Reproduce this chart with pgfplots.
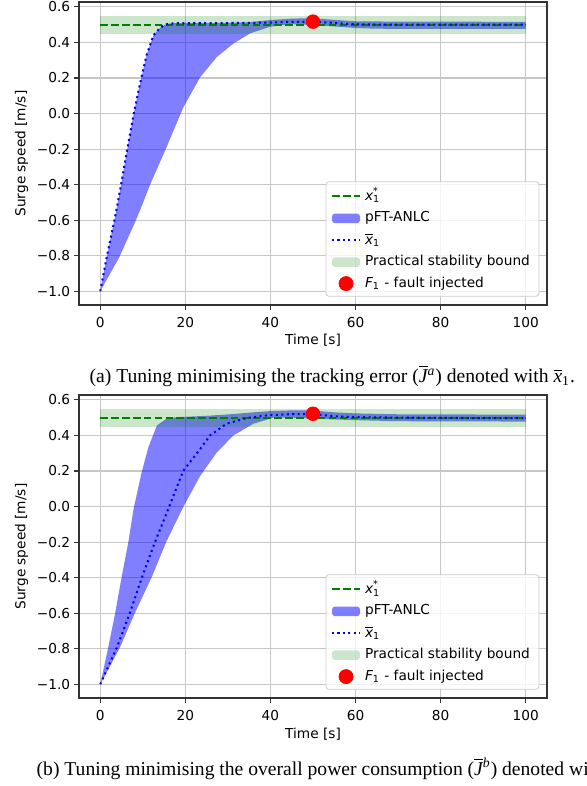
\documentclass[border=0pt]{standalone}
\usepackage{fontspec}
\setmainfont{DejaVu Sans}
\newfontfamily\capfont{Liberation Serif}
\usepackage{pgfplots}
\pgfplotsset{compat=1.18}
\usepgfplotslibrary{fillbetween}
\definecolor{mplgreen}{RGB}{0,128,0}
\definecolor{mplblue}{RGB}{0,0,255}
\definecolor{mplred}{RGB}{255,0,0}
\newcommand\fs{\fontsize{6.85}{8.2}\selectfont}
\newcommand\capfs{\capfont\fontsize{9.8}{11.5}\selectfont}
\pgfplotsset{
  mystyle/.style={
    scale only axis, width=234pt, height=151.5pt,
    xmin=-5, xmax=105, ymin=-1.0775, ymax=0.6275,
    xtick={0,20,40,60,80,100}, xticklabels={0,20,40,60,80,100},
    ytick={-1,-0.8,-0.6,-0.4,-0.2,0,0.2,0.4,0.6},
    yticklabels={−1.0,−0.8,−0.6,−0.4,−0.2,0.0,0.2,0.4,0.6},
    /pgf/number format/assume math mode=true,
    tick label style={font=\fs},
    xticklabel style={anchor=north, inner sep=0pt, yshift=-3.4pt},
    yticklabel style={anchor=east, inner sep=0pt, xshift=-1.8pt},
    tick align=outside, major tick length=2.4pt,
    xtick pos=bottom, ytick pos=left,
    tick style={line width=0.55pt, black!80},
    axis line style={line width=0.55pt, black!80},
    grid=major, major grid style={line width=0.55pt, draw=black!22},
    xlabel={Time [s]}, ylabel={Surge speed [m/s]},
    label style={font=\fs},
    xlabel style={at={(axis description cs:0.5,-0.1178)}, anchor=center},
    ylabel style={at={(axis description cs:-0.1224,0.5)}, anchor=center},
    legend cell align=left,
    legend style={
      at={(axis description cs:1,0)}, anchor=south east, xshift=-3.85pt, yshift=4.15pt,
      draw=black!20, line width=0.4pt, fill=white, fill opacity=0.8, text opacity=1,
      rounded corners=1.5pt, font=\fs,
      inner xsep=2.5pt, inner ysep=1pt, row sep=0pt,
      /tikz/every even column/.append style={column sep=5.5pt},
    },
  },
  refline/.style={mplgreen, line width=1.03pt, dash pattern=on 3.8pt off 1.64pt,
    legend image code/.code={\draw[##1] (0pt,0pt)--(14pt,0pt);}},
  dotline/.style={mplblue, line width=1.03pt, dash pattern=on 1.03pt off 1.7pt,
    legend image code/.code={\draw[##1] (0pt,0pt)--(14pt,0pt);}},
  areaimg/.style={legend image code/.code={\fill[##1] (0pt,-2.4pt) rectangle (14pt,2.4pt);}},
  faultmark/.style={only marks, mark=*, mark size=3.4pt, color=mplred, fill opacity=1,
    mark options={draw=mplred, fill=mplred, fill opacity=1},
    legend image code/.code={\fill[mplred, fill opacity=1] (7pt,0pt) circle[radius=3.5pt];}},
}
\begin{document}
\begin{tikzpicture}
% ---------------- (a) ----------------
\begin{axis}[mystyle, at={(39.5pt,-1pt)}, anchor=north west]
\addplot[refline] coordinates {(0,0.5)(100,0.5)};
\addlegendentry{{\itshape x}\rlap{\textsuperscript{*}}\textsubscript{1}}
\addplot[name path=aup, draw=none, forget plot] coordinates {
(0,-1.0)(1.5,-0.81)(3.5,-0.58)(4.9,-0.40)(6.2,-0.22)(7.8,-0.01)(9.0,0.13)(9.7,0.205)
(10.9,0.33)(12.5,0.44)(14,0.48)(15,0.497)(16,0.506)(18,0.509)(25,0.509)(30,0.510)
(35,0.514)(40,0.526)(45,0.534)(50,0.536)(55,0.527)(60,0.519)(70,0.517)(100,0.516)};
\addplot[name path=alo, draw=none, forget plot] coordinates {
(0,-1.0)(4.5,-0.807)(8.2,-0.61)(10.1,-0.50)(11.7,-0.40)(15.2,-0.211)(19.5,0.034)
(23.5,0.205)(27.4,0.318)(31.3,0.394)(35.2,0.451)(39.9,0.488)(44.6,0.503)(50,0.499)
(55,0.49)(60,0.481)(65,0.477)(100,0.476)};
\addplot[fill=mplblue, fill opacity=0.5, draw=none, areaimg] fill between[of=aup and alo];
\addlegendentry{pFT-ANLC}
\addplot[dotline] coordinates {
(0,-1.0)(1.5,-0.81)(3.5,-0.58)(4.9,-0.40)(6.2,-0.22)(7.8,-0.01)(9.0,0.13)(9.7,0.205)
(10.9,0.33)(12.5,0.44)(14,0.48)(15,0.497)(16,0.505)(18,0.508)(25,0.508)(30,0.509)
(35,0.510)(40,0.512)(45,0.516)(50,0.516)(55,0.510)(58,0.504)(62,0.501)(70,0.500)(100,0.500)};
\addlegendentry{$\overline{\hbox{\itshape x}}$\textsubscript{1}}
\addplot[name path=gup, draw=none, forget plot] coordinates {(0,0.55)(100,0.55)};
\addplot[name path=glo, draw=none, forget plot] coordinates {(0,0.45)(100,0.45)};
\addplot[fill=mplgreen, fill opacity=0.2, draw=none, areaimg] fill between[of=gup and glo];
\addlegendentry{Practical stability bound}
\addplot[faultmark] coordinates {(50,0.517)};
\addlegendentry{{\itshape F}\textsubscript{1} - fault injected}
\end{axis}
% ---------------- (b) ----------------
\begin{axis}[mystyle, at={(39.5pt,-197.5pt)}, anchor=north west]
\addplot[refline] coordinates {(0,0.5)(100,0.5)};
\addlegendentry{{\itshape x}\rlap{\textsuperscript{*}}\textsubscript{1}}
\addplot[name path=bup, draw=none, forget plot] coordinates {
(0,-1.0)(1.9,-0.79)(3.5,-0.60)(5.0,-0.40)(6.6,-0.20)(7.8,-0.017)(9.7,0.19)(11.3,0.333)
(13.3,0.456)(15.6,0.494)(18,0.503)(22,0.507)(26,0.512)(31,0.52)(36,0.53)(40,0.537)
(45,0.541)(50,0.54)(55,0.53)(60,0.524)(70,0.519)(100,0.517)};
\addplot[name path=blo, draw=none, forget plot] coordinates {
(0,-1.0)(4.6,-0.794)(8.2,-0.596)(12.1,-0.397)(15.5,-0.199)(19.6,0.002)(23.5,0.173)
(27.4,0.305)(31.3,0.40)(36,0.466)(40.7,0.50)(45,0.50)(50,0.495)(55,0.49)(60,0.486)
(70,0.48)(100,0.478)};
\addplot[fill=mplblue, fill opacity=0.5, draw=none, areaimg] fill between[of=bup and blo];
\addlegendentry{pFT-ANLC}
\addplot[dotline] coordinates {
(0,-1.0)(3.9,-0.794)(7.0,-0.596)(9.7,-0.405)(12.7,-0.21)(16.1,-0.007)(19.5,0.201)
(23.5,0.324)(25.8,0.40)(29.7,0.466)(34.4,0.498)(39.2,0.513)(45,0.52)(50,0.52)(55,0.508)
(60,0.503)(70,0.50)(85,0.498)(100,0.497)};
\addlegendentry{$\overline{\hbox{\itshape x}}$\textsubscript{1}}
\addplot[name path=hup, draw=none, forget plot] coordinates {(0,0.55)(100,0.55)};
\addplot[name path=hlo, draw=none, forget plot] coordinates {(0,0.45)(100,0.45)};
\addplot[fill=mplgreen, fill opacity=0.2, draw=none, areaimg] fill between[of=hup and hlo];
\addlegendentry{Practical stability bound}
\addplot[faultmark] coordinates {(50,0.522)};
\addlegendentry{{\itshape F}\textsubscript{1} - fault injected}
\end{axis}
% captions
\node[anchor=base west, inner sep=0pt, font=\capfs] at (44.65pt,-191.25pt)
  {(a) Tuning minimising the tracking error ($\overline{\hbox{\itshape J}}$\textsuperscript{\itshape a}) denoted with $\overline{\hbox{\itshape x}}$\textsubscript{1}.};
\node[anchor=base west, inner sep=0pt, font=\capfs] at (18.15pt,-387.5pt)
  {(b) Tuning minimising the overall power consumption ($\overline{\hbox{\itshape J}}$\textsuperscript{\itshape b}) denoted with $\overline{\hbox{\itshape x}}$\textsubscript{1}.};
\pgfresetboundingbox
\path[use as bounding box] (0pt,0pt) rectangle (293pt,-393pt);
\end{tikzpicture}
\end{document}
